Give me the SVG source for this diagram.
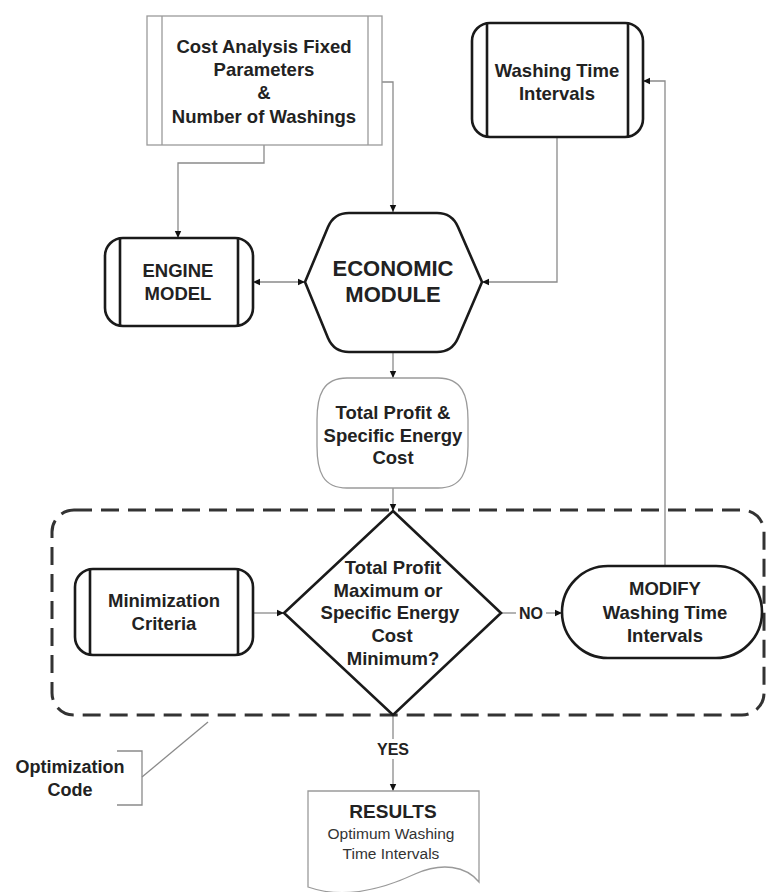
<svg xmlns="http://www.w3.org/2000/svg" width="767" height="892" viewBox="0 0 767 892">
<defs>
<marker id="arr" markerWidth="8" markerHeight="8" refX="7" refY="4" orient="auto" markerUnits="userSpaceOnUse">
<path d="M0,0.8 L7,4 L0,7.2 Z" fill="#111"/>
</marker>
<marker id="arrs" markerWidth="8" markerHeight="8" refX="0" refY="4" orient="auto" markerUnits="userSpaceOnUse">
<path d="M7,0.8 L0,4 L7,7.2 Z" fill="#111"/>
</marker>
<style>
.t{font-family:"Liberation Sans",Arial,sans-serif;font-weight:bold;fill:#222;text-anchor:middle}
.r{font-family:"Liberation Sans",Arial,sans-serif;fill:#333;text-anchor:middle}
.thick{fill:#fff;stroke:#1a1a1a;stroke-width:2.6}
.thin{fill:#fff;stroke:#9a9a9a;stroke-width:1.3}
.c{fill:none;stroke:#8a8a8a;stroke-width:1.3}
</style>
</defs>
<rect width="767" height="892" fill="#fff"/>

<g id="optimization-region">
<rect x="52" y="510" width="712" height="205" rx="22" fill="none" stroke="#333" stroke-width="3" stroke-dasharray="18 9"/>
</g>

<g id="connectors">
<path class="c" d="M264,145 V163 H178 V238" marker-end="url(#arr)"/>
<path class="c" d="M382,82 H393 V212" marker-end="url(#arr)"/>
<path class="c" d="M253,282 H305" marker-start="url(#arrs)" marker-end="url(#arr)"/>
<path class="c" d="M557,137 V282 H482" marker-end="url(#arr)"/>
<path class="c" d="M393,352 V378" marker-end="url(#arr)"/>
<path class="c" d="M393,488 V511" marker-end="url(#arr)"/>
<path class="c" d="M253,613 H284" marker-end="url(#arr)"/>
<path class="c" d="M501,613 H516"/>
<path class="c" d="M546,613 H562" marker-end="url(#arr)"/>
<path class="c" d="M665,566 V81 H643" marker-end="url(#arr)"/>
<path class="c" d="M393,715 V739"/>
<path class="c" d="M393,759 V791" marker-end="url(#arr)"/>
<path class="c" d="M117,751 H142 V805 H117"/>
<path class="c" d="M142,777 L208,722"/>
</g>

<g id="cost-analysis">
<rect class="thin" x="147" y="16" width="235" height="129"/>
<line x1="162" y1="16" x2="162" y2="145" stroke="#9a9a9a" stroke-width="1.3"/>
<line x1="368" y1="16" x2="368" y2="145" stroke="#9a9a9a" stroke-width="1.3"/>
<text class="t" font-size="18.5" x="264" y="53">Cost Analysis Fixed</text>
<text class="t" font-size="18.5" x="264" y="76">Parameters</text>
<text class="t" font-size="18.5" x="264" y="99">&amp;</text>
<text class="t" font-size="18.5" x="264" y="123">Number of Washings</text>
</g>

<g id="washing-time">
<rect class="thick" x="472" y="23" width="171" height="114" rx="18"/>
<line x1="487" y1="23" x2="487" y2="137" stroke="#1a1a1a" stroke-width="2.6"/>
<line x1="628" y1="23" x2="628" y2="137" stroke="#1a1a1a" stroke-width="2.6"/>
<text class="t" font-size="18.5" x="557" y="77">Washing Time</text>
<text class="t" font-size="18.5" x="557" y="100">Intervals</text>
</g>

<g id="engine-model">
<rect class="thick" x="105" y="238" width="148" height="88" rx="18"/>
<line x1="120" y1="238" x2="120" y2="326" stroke="#1a1a1a" stroke-width="2.6"/>
<line x1="238" y1="238" x2="238" y2="326" stroke="#1a1a1a" stroke-width="2.6"/>
<text class="t" font-size="18.5" x="178" y="277">ENGINE</text>
<text class="t" font-size="18.5" x="178" y="300">MODEL</text>
</g>

<g id="economic-module">
<path class="thick" d="M349,213 H437 Q452,213 458,227 L482,282 L458,338 Q452,352 437,352 H349 Q334,352 328,338 L305,282 L328,227 Q334,213 349,213 Z"/>
<text class="t" font-size="22" x="393" y="276">ECONOMIC</text>
<text class="t" font-size="22" x="393" y="302">MODULE</text>
</g>

<g id="total-profit">
<path class="thin" d="M347,378 H438 C462,378 468,395 468,420 V446 C468,472 462,488 438,488 H347 C323,488 317,472 317,446 V420 C317,395 323,378 347,378 Z"/>
<text class="t" font-size="18.5" x="393" y="419">Total Profit &amp;</text>
<text class="t" font-size="18.5" x="393" y="442">Specific Energy</text>
<text class="t" font-size="18.5" x="393" y="464">Cost</text>
</g>

<g id="decision">
<path class="thick" d="M393,511 L501,613 L393,715 L284,613 Z"/>
<text class="t" font-size="18.5" x="393" y="574">Total Profit</text>
<text class="t" font-size="18.5" x="388" y="597">Maximum or</text>
<text class="t" font-size="18.5" x="390" y="619">Specific Energy</text>
<text class="t" font-size="18.5" x="392" y="642">Cost</text>
<text class="t" font-size="18.5" x="393" y="665">Minimum?</text>
</g>

<g id="minimization-criteria">
<rect class="thick" x="75" y="569" width="178" height="86" rx="18"/>
<line x1="90" y1="569" x2="90" y2="655" stroke="#1a1a1a" stroke-width="2.6"/>
<line x1="238" y1="569" x2="238" y2="655" stroke="#1a1a1a" stroke-width="2.6"/>
<text class="t" font-size="18.5" x="164" y="607">Minimization</text>
<text class="t" font-size="18.5" x="164" y="630">Criteria</text>
</g>

<g id="modify">
<rect class="thick" x="562" y="566" width="200" height="92" rx="46"/>
<text class="t" font-size="18.5" x="665" y="595">MODIFY</text>
<text class="t" font-size="18.5" x="665" y="619">Washing Time</text>
<text class="t" font-size="18.5" x="665" y="642">Intervals</text>
</g>

<g id="labels">
<text class="t" font-size="16" x="531" y="619">NO</text>
<text class="t" font-size="16" x="393" y="755">YES</text>
</g>

<g id="optimization-code">
<text class="t" font-size="18" x="70" y="773">Optimization</text>
<text class="t" font-size="18" x="70" y="796">Code</text>
</g>

<g id="results">
<path class="thin" d="M308,791 H479 V882 C466,866 442,862 415,874 C385,888 345,900 308,887 Z"/>
<text class="t" font-size="19" x="393" y="818">RESULTS</text>
<text class="r" font-size="15.5" x="391" y="839">Optimum Washing</text>
<text class="r" font-size="15.5" x="391" y="859">Time Intervals</text>
</g>
</svg>
